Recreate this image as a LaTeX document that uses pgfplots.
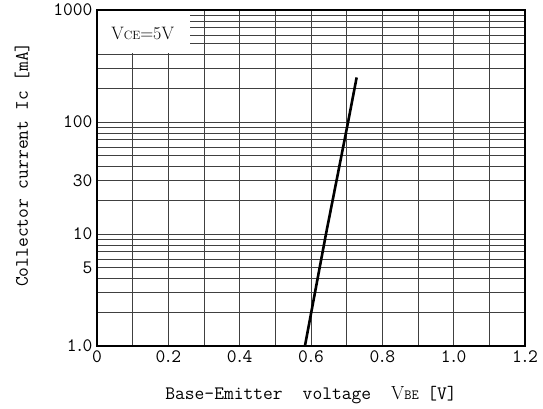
\documentclass[border=0pt]{standalone}
\usepackage{fontspec}
\usepackage{pgfplots}
\pgfplotsset{compat=1.18}
\newcommand{\dt}{\kern-0.1em.\kern-0.1em}

\begin{document}
\begin{tikzpicture}
% keep the page size of the reference picture
\path[use as bounding box] (-97pt,-62pt) rectangle (446pt,346pt);
\begin{axis}[
    at={(0,0)}, anchor=south west,
    scale only axis,
    width=428pt, height=336pt,
    xmin=0, xmax=1.2,
    ymode=log, ymin=1, ymax=1000,
    xtick={0,0.2,0.4,0.6,0.8,1.0,1.2},
    xticklabels={0,0\dt2,0\dt4,0\dt6,0\dt8,1\dt0,1\dt2},
    minor xtick={0.1,0.3,0.5,0.7,0.9,1.1},
    ytick={1,5,10,30,100,1000},
    yticklabels={1\dt0,5,10,30,100,1000},
    minor ytick={2,3,4,6,7,8,9,20,40,50,60,70,80,90,200,300,400,500,600,700,800,900},
    grid=both,
    major grid style={black!75, line width=0.7pt},
    minor grid style={black!75, line width=0.7pt},
    major tick length=0pt, minor tick length=0pt,
    axis line style={line width=2.4pt},
    tick label style={font=\ttfamily\fontsize{19}{22}\selectfont},
    label style={font=\ttfamily\fontsize{19}{22}\selectfont},
    xlabel={Base\textendash Emitter\hspace{1.05em}voltage\hspace{1.05em}{\rmfamily V}{\fontsize{14}{14}\selectfont BE}\hspace{0.45em}[V]},
    ylabel={Collector current Ic [mA]},
    xlabel style={at={(axis description cs:0.5,-0.145)}, anchor=center},
    ylabel style={at={(axis description cs:-0.175,0.54)}, anchor=center},
    xticklabel style={yshift=-1pt},
    yticklabel style={xshift=-1pt},
]

\addplot[black, line width=2.6pt] coordinates {
    (0.583,1) (0.642,10) (0.704,100) (0.728,250)
};

% label box over the top-left grid
\fill[white] ([xshift=1.3pt]axis cs:0,415) rectangle ([yshift=-1.3pt]axis cs:0.262,1000);
\node[font=\rmfamily\fontsize{18}{20}\selectfont] at (axis cs:0.128,611)
    {V{\fontsize{12}{12}\selectfont CE}=5V};

\end{axis}
\end{tikzpicture}
\end{document}
